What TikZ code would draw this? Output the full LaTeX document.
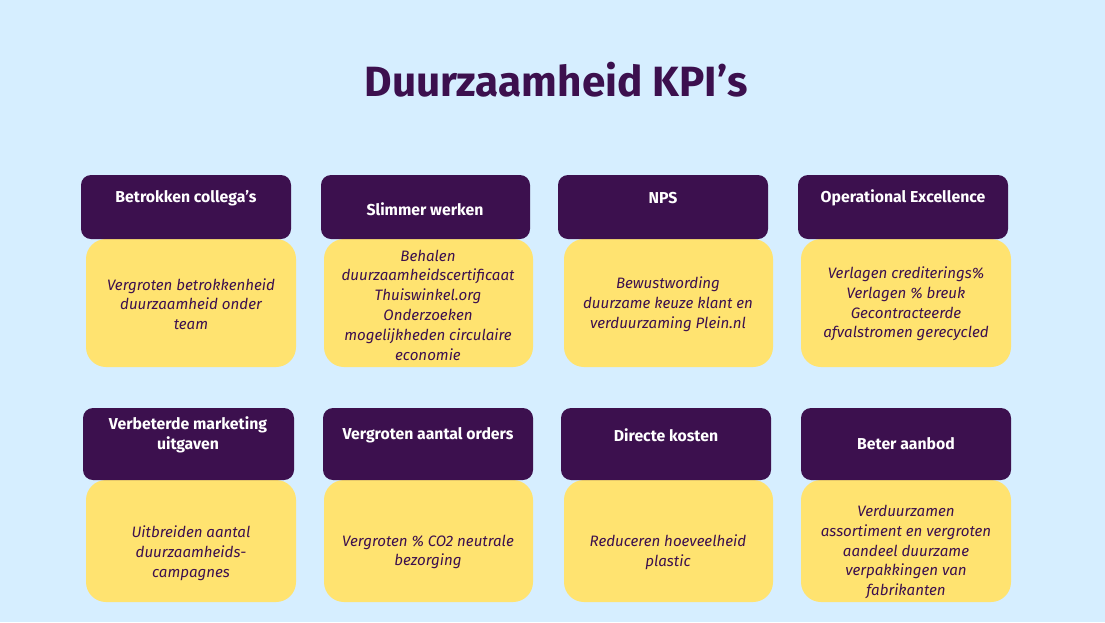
\documentclass[tikz,border=0pt]{standalone}
\usepackage{fontspec}
\setmainfont{Fira Sans}
\definecolor{bgc}{RGB}{214,238,255}
\definecolor{purp}{RGB}{60,16,78}
\definecolor{yel}{RGB}{255,227,112}
\begin{document}
\begin{tikzpicture}[x=1pt,y=-1pt,
  head/.style={fill=purp,rounded corners=10pt},
  body/.style={fill=yel,rounded corners=20pt},
  htext/.style={text=white,font=\fontsize{15.8}{20}\selectfont\bfseries,align=center,inner sep=0pt},
  btext/.style={text=purp,font=\fontsize{15.1}{19.8}\selectfont\itshape,align=center,inner sep=0pt}]
\fill[bgc] (0,0) rectangle (1105,622);
\useasboundingbox (0,0) rectangle (1105,622);
\node[text=purp,font=\fontsize{42.3}{48}\selectfont\bfseries,inner sep=0pt] (title) at (556,80) {Duurzaamheid KPI’s};
% row 1
\path[body] (86,239) rectangle (296,367);
\path[head] (81,175) rectangle (291,239);
\path[body] (324,239) rectangle (533,367);
\path[head] (321,175) rectangle (530,239);
\path[body] (564,239) rectangle (773,367);
\path[head] (558,175) rectangle (768,239);
\path[body] (801,239) rectangle (1011,367);
\path[head] (798,175) rectangle (1008,239);
% row 2
\path[body] (86,480) rectangle (296,602);
\path[head] (83,408) rectangle (294,480);
\path[body] (324,480) rectangle (533,602);
\path[head] (323,408) rectangle (533,480);
\path[body] (564,480) rectangle (773,602);
\path[head] (561,408) rectangle (771,480);
\path[body] (801,480) rectangle (1011,602);
\path[head] (801,408) rectangle (1011,480);
% head texts
\node[htext] (h1) at (186,198) {Betrokken collega’s};
\node[htext] (h2) at (425,209) {Slimmer werken};
\node[htext] (h3) at (663,198) {NPS};
\node[htext] (h4) at (903,198) {Operational Excellence};
\node[htext] (h5) at (188,435) {Verbeterde marketing\\uitgaven};
\node[htext] (h6) at (428,435) {Vergroten aantal orders};
\node[htext] (h7) at (666,435) {Directe kosten};
\node[htext] (h8) at (906,444) {Beter aanbod};
% body texts
\node[btext] (b1) at (191,304) {Vergroten betrokkenheid\\duurzaamheid onder\\team};
\node[btext] (b2) at (428,305) {Behalen\\duurzaamheidscertificaat\\Thuiswinkel.org\\Onderzoeken\\mogelijkheden circulaire\\economie};
\node[btext] (b3) at (668,304) {Bewustwording\\duurzame keuze klant en\\verduurzaming Plein.nl};
\node[btext] (b4) at (906,304) {Verlagen crediterings\%\\Verlagen \% breuk\\Gecontracteerde\\afvalstromen gerecycled};
\node[btext] (b5) at (191,553) {Uitbreiden aantal\\duurzaamheids-\\campagnes};
\node[btext] (b6) at (428,552) {Vergroten \% CO2 neutrale\\bezorging};
\node[btext] (b7) at (668,552) {Reduceren hoeveelheid\\plastic};
\node[btext] (b8) at (906,552) {Verduurzamen\\assortiment en vergroten\\aandeel duurzame\\verpakkingen van\\fabrikanten};
\end{tikzpicture}
\end{document}
